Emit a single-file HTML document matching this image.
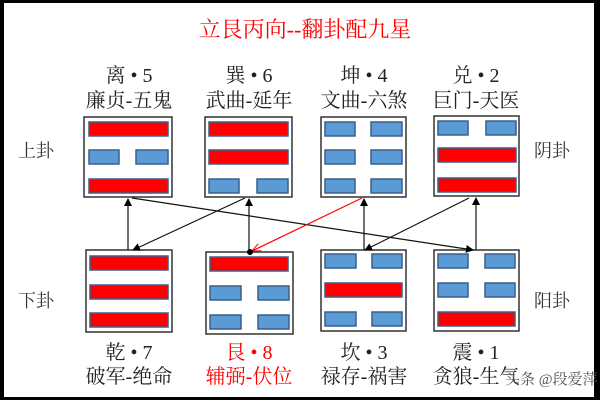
<!DOCTYPE html>
<html><head><meta charset="utf-8"><style>
body{margin:0;background:#000;}
svg{display:block}
text{font-family:"Liberation Serif","Noto Serif CJK SC",serif;}
</style></head><body>
<svg width="600" height="400" viewBox="0 0 600 400" xmlns="http://www.w3.org/2000/svg">
<rect x="0" y="0" width="600" height="400" fill="#000"/>
<rect x="4" y="3" width="590" height="394" fill="#fff"/>
<defs>
<marker id="ab" markerWidth="8" markerHeight="8" refX="7" refY="4" orient="auto" markerUnits="userSpaceOnUse"><path d="M0,0 L8,4 L0,8 z" fill="#000"/></marker>
<marker id="ar" markerWidth="10" markerHeight="8" refX="9" refY="4" orient="auto" markerUnits="userSpaceOnUse"><path d="M0,0 L9,4 L0,8" fill="none" stroke="#f00" stroke-width="1"/></marker>
</defs>
<text x="305" y="37" font-size="22" fill="#f00" text-anchor="middle">立艮丙向--翻卦配九星</text>
<g font-size="20" fill="#222" text-anchor="middle">
<text x="129" y="82">离 • 5</text><text x="129" y="107">廉贞-五鬼</text>
<text x="249" y="82">巽 • 6</text><text x="249" y="107">武曲-延年</text>
<text x="364" y="82">坤 • 4</text><text x="364" y="107">文曲-六煞</text>
<text x="476" y="82">兑 • 2</text><text x="476" y="107">巨门-天医</text>
<text x="129" y="359">乾 • 7</text><text x="129" y="383">破军-绝命</text>
<text x="249" y="359" fill="#f00">艮 • 8</text><text x="249" y="383" fill="#f00">辅弼-伏位</text>
<text x="364" y="359">坎 • 3</text><text x="364" y="383">禄存-祸害</text>
<text x="476" y="359">震 • 1</text><text x="476" y="383">贪狼-生气</text>
</g>
<g font-size="18" fill="#333">
<text x="18" y="157">上卦</text><text x="534" y="157">阴卦</text>
<text x="18" y="307">下卦</text><text x="534" y="307">阳卦</text>
</g>
<text x="505" y="384" font-size="15" fill="#555" font-family="Liberation Sans,Noto Sans CJK SC,sans-serif">头条 @段爱萍</text>
<g stroke="#333" stroke-width="1.5" fill="#fff">
<rect x="84" y="117" width="88" height="80"/>
<rect x="205" y="117" width="87" height="80"/>
<rect x="321" y="117" width="85" height="80"/>
<rect x="434" y="116" width="85" height="80"/>
<rect x="86" y="250" width="86" height="82"/>
<rect x="206" y="252" width="87" height="82"/>
<rect x="321" y="250" width="85" height="81"/>
<rect x="434" y="250" width="85" height="81"/>
</g>
<g stroke="#3a5f8a" stroke-width="1.5">
<!-- top 1: yang yin yang -->
<rect x="89" y="122" width="79" height="14" fill="#f00"/>
<rect x="89" y="150" width="30" height="14" fill="#5b9bd5"/><rect x="136" y="150" width="32" height="14" fill="#5b9bd5"/>
<rect x="89" y="179" width="79" height="14" fill="#f00"/>
<!-- top 2 -->
<rect x="209" y="122" width="79" height="14" fill="#f00"/>
<rect x="209" y="150" width="79" height="14" fill="#f00"/>
<rect x="209" y="179" width="30" height="14" fill="#5b9bd5"/><rect x="257" y="179" width="31" height="14" fill="#5b9bd5"/>
<!-- top 3 -->
<rect x="325" y="122" width="30" height="14" fill="#5b9bd5"/><rect x="371" y="122" width="31" height="14" fill="#5b9bd5"/>
<rect x="325" y="150" width="30" height="14" fill="#5b9bd5"/><rect x="371" y="150" width="31" height="14" fill="#5b9bd5"/>
<rect x="325" y="179" width="30" height="14" fill="#5b9bd5"/><rect x="371" y="179" width="31" height="14" fill="#5b9bd5"/>
<!-- top 4 -->
<rect x="438" y="121" width="30" height="14" fill="#5b9bd5"/><rect x="486" y="121" width="30" height="14" fill="#5b9bd5"/>
<rect x="438" y="148" width="78" height="14" fill="#f00"/>
<rect x="438" y="178" width="78" height="14" fill="#f00"/>
<!-- bottom 1 -->
<rect x="90" y="256" width="78" height="14" fill="#f00"/>
<rect x="90" y="285" width="78" height="14" fill="#f00"/>
<rect x="90" y="313" width="78" height="14" fill="#f00"/>
<!-- bottom 2 -->
<rect x="210" y="257" width="78" height="14" fill="#f00"/>
<rect x="210" y="286" width="31" height="14" fill="#5b9bd5"/><rect x="258" y="286" width="31" height="14" fill="#5b9bd5"/>
<rect x="210" y="315" width="31" height="14" fill="#5b9bd5"/><rect x="258" y="315" width="31" height="14" fill="#5b9bd5"/>
<!-- bottom 3 -->
<rect x="325" y="254" width="31" height="14" fill="#5b9bd5"/><rect x="372" y="254" width="30" height="14" fill="#5b9bd5"/>
<rect x="325" y="283" width="77" height="14" fill="#f00"/>
<rect x="325" y="312" width="31" height="14" fill="#5b9bd5"/><rect x="372" y="312" width="30" height="14" fill="#5b9bd5"/>
<!-- bottom 4 -->
<rect x="438" y="254" width="30" height="14" fill="#5b9bd5"/><rect x="485" y="254" width="30" height="14" fill="#5b9bd5"/>
<rect x="438" y="283" width="30" height="14" fill="#5b9bd5"/><rect x="485" y="283" width="30" height="14" fill="#5b9bd5"/>
<rect x="438" y="312" width="77" height="14" fill="#f00"/>
</g>
<g stroke="#111" stroke-width="1.2" fill="none">
<line x1="128" y1="250" x2="128" y2="199" marker-end="url(#ab)"/>
<line x1="132" y1="198" x2="473" y2="250" marker-end="url(#ab)"/>
<line x1="245" y1="198" x2="133" y2="250" marker-end="url(#ab)"/>
<line x1="249" y1="252" x2="249" y2="199" marker-end="url(#ab)"/>
<line x1="364" y1="250" x2="364" y2="199" marker-end="url(#ab)"/>
<line x1="469" y1="198" x2="365" y2="250" marker-end="url(#ab)"/>
<line x1="476" y1="250" x2="476" y2="198" marker-end="url(#ab)"/>
</g>
<line x1="362" y1="198" x2="252" y2="251" stroke="#f00" stroke-width="1.2" marker-end="url(#ar)"/>
<circle cx="250" cy="252" r="3" fill="#000"/>
</svg>
</body></html>
